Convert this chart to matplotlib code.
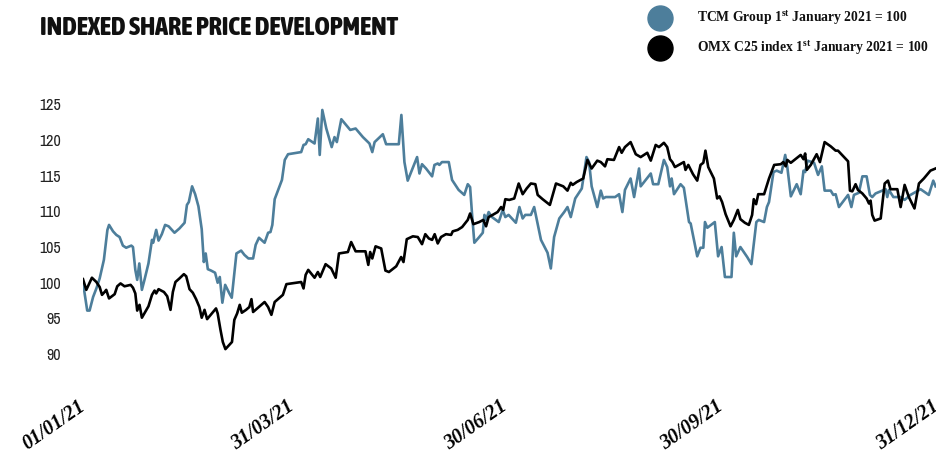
import matplotlib
matplotlib.use("Agg")
import matplotlib.pyplot as plt
import pandas as pd
from matplotlib import font_manager
from matplotlib.lines import Line2D

# TCM Group, indexed (day offset from 1 Jan 2021, index value)
tcm_days = (
    [0, 1.8, 2.8, 4.3, 5.7, 7.1, 8.9, 10.4, 11.1, 12.8, 14.2, 15.6, 17.0, 18.4, 20.6, 21.3, 22.3, 23.1, 24.0, 25.1,
     26.2, 27.9, 29.4, 29.9, 31.2, 32.2, 33.6, 35.0, 36.5, 39.0, 41.1, 43.3, 44.3, 45.1, 46.5, 47.8, 49.2, 50.6,
     51.5, 52.3, 53.2, 54.6, 56.3, 57.4, 58.3, 59.4, 60.6, 62.4, 63.4, 65.4, 67.4, 68.8, 70.5]
    + [72.5, 73.6, 75.0, 77.4, 78.9, 79.9, 80.7, 81.7, 83.1, 84.8, 86.0, 87.4, 93.0, 94.0, 94.9, 96.0, 98.7, 100.1,
       100.9, 102.0, 103.7, 106.0, 107.2, 108.2, 110.1, 113.9, 116.2, 119.3, 122.1, 123.3, 124.3, 127.8, 129.2,
       134.6, 135.7, 137.0, 138.4, 142.4]
    + [143.4, 144.5, 146.2, 148.8, 149.8, 151.2, 151.9, 153.0, 155.9, 157.3, 158.7, 160.1, 162.5, 164.0, 165.0,
       165.8, 166.8, 168.9, 170.4, 171.1, 171.8, 172.9, 174.3, 177.2, 178.9, 180.0, 181.4, 184.5, 186.0, 187.4,
       188.5, 190.9, 192.3, 195.2, 198.0, 199.4, 200.8, 203.0, 205.1, 206.5, 207.9, 209.8, 212.6, 214.6]
    + [215.7, 216.8, 219.2, 220.7, 221.7, 222.8, 226.8, 228.5, 229.9, 231.0, 233.4, 234.9, 237.0, 237.7, 242.0,
       243.0, 245.2, 247.6, 249.0, 250.2, 250.9, 251.9, 254.7, 256.1, 258.3, 259.0, 261.8, 263.2, 264.4, 265.1,
       266.1, 269.3, 270.7, 272.2, 273.6, 276.4, 277.4, 278.4, 280.2, 283.1, 284.9, 287.0, 288.0]
    + [290.3, 291.5, 292.4, 294.3, 295.7, 297.7, 299.3, 300.2, 301.7, 304.2, 305.9, 307.1, 307.8, 308.8, 311.6,
       313.3, 314.9, 316.1, 318.7, 319.8, 320.8, 322.2, 326.1, 327.5, 328.6, 330.7, 332.2, 334.0, 335.4, 336.4,
       337.8, 342.1, 342.8, 343.5, 345.4, 348.5, 350.2, 352.7, 357.0, 360.5, 362.4, 363.4]
)
tcm_values = (
    [100.0, 96.1, 96.1, 98.0, 99.2, 100.6, 103.2, 107.4, 108.1, 107.2, 106.7, 106.4, 105.2, 104.9, 105.2, 105.0,
     101.8, 100.4, 102.7, 99.0, 100.4, 102.7, 106.0, 105.6, 107.4, 105.9, 106.8, 108.1, 107.9, 107.0, 107.6, 108.4,
     110.9, 111.3, 113.5, 112.4, 110.7, 107.5, 102.9, 104.1, 101.9, 101.7, 101.4, 100.0, 100.8, 97.2, 99.7, 98.5,
     97.9, 104.1, 104.5, 103.9, 103.4]
    + [103.4, 105.3, 106.3, 105.6, 107.0, 107.1, 108.1, 111.7, 112.9, 114.4, 117.2, 118.0, 118.3, 119.3, 119.4,
       120.1, 119.5, 123.0, 117.9, 124.2, 121.6, 119.0, 120.4, 119.7, 122.9, 121.4, 121.6, 120.4, 119.5, 118.3,
       119.7, 120.8, 119.4, 119.4, 123.5, 116.9, 114.3, 117.6]
    + [115.3, 116.6, 116.0, 114.9, 116.5, 116.7, 116.5, 116.9, 116.9, 114.4, 113.7, 113.0, 112.3, 113.8, 113.4,
       109.7, 105.6, 106.4, 107.0, 109.5, 108.8, 109.9, 109.2, 108.5, 110.2, 109.2, 109.5, 108.4, 110.6, 109.0,
       109.5, 109.5, 110.6, 106.0, 104.2, 102.0, 106.4, 109.0, 109.9, 110.6, 109.2, 111.8, 113.2, 117.6]
    + [116.9, 113.5, 110.6, 112.9, 111.8, 112.0, 112.0, 112.4, 109.9, 113.0, 114.6, 112.0, 116.0, 113.5, 115.3,
       113.8, 113.8, 117.2, 116.2, 113.5, 114.6, 112.4, 113.8, 113.3, 108.5, 108.3, 103.7, 104.9, 104.9, 108.5,
       107.7, 108.5, 103.7, 105.0, 100.8, 100.8, 107.0, 103.7, 105.0, 103.6, 102.6, 108.5, 108.8]
    + [108.5, 110.6, 111.3, 115.5, 115.7, 115.4, 117.9, 116.2, 112.1, 113.8, 112.4, 115.7, 115.5, 117.1, 116.8,
       115.1, 116.3, 112.9, 112.9, 112.3, 112.4, 110.6, 112.3, 110.6, 112.3, 112.6, 114.9, 114.9, 112.3, 112.0,
       112.5, 113.1, 112.0, 113.0, 112.0, 112.0, 111.6, 112.3, 113.1, 112.3, 114.3, 113.5]
)

# OMX C25 index, indexed
omx_days = (
    [0, 1.4, 3.8, 5.7, 7.1, 8.1, 9.2, 9.9, 11.1, 13.5, 14.6, 16.0, 17.7, 20.3, 21.3, 22.3, 23.1, 24.1, 25.1, 27.9,
     29.4, 30.5, 31.2, 32.2, 34.5, 35.9, 37.3, 38.3, 39.4, 41.1, 43.0, 44.0, 45.4, 46.8, 48.2, 49.6, 50.6, 51.8,
     52.9, 54.9, 56.7, 57.4, 58.6, 59.6, 60.7, 63.5, 64.5, 65.7, 66.8, 67.7, 69.5, 70.9]
    + [71.8, 72.5, 74.6, 77.4, 78.9, 80.3, 81.7, 85.2, 86.7, 93.0, 94.0, 94.9, 96.0, 98.7, 100.1, 101.1, 103.4,
       105.8, 107.7, 109.1, 112.9, 114.3, 116.2, 120.4, 121.6, 122.4, 123.3, 124.7, 127.1, 128.9, 130.4, 133.5,
       135.6, 136.6, 138.0, 140.6, 142.7]
    + [144.5, 145.9, 147.4, 148.8, 149.9, 151.2, 152.6, 154.7, 156.9, 157.6, 159.7, 161.6, 164.0, 165.0, 166.4,
       168.9, 170.6, 171.8, 172.9, 174.6, 176.7, 178.2, 179.1, 180.0, 181.7, 183.8, 185.7, 187.4, 189.1, 190.9,
       192.8, 193.8, 195.9, 199.0, 201.6, 204.7, 206.5, 207.9, 208.7, 210.4, 213.2, 215.0]
    + [216.8, 219.2, 220.7, 222.5, 223.5, 226.3, 228.5, 229.6, 231.0, 233.4, 235.6, 237.7, 240.5, 242.0, 244.1,
       245.5, 247.6, 249.0, 250.2, 251.2, 252.3, 256.1, 256.8, 258.0, 260.0, 261.8, 263.2, 264.4, 265.3, 266.5,
       268.9, 270.3, 271.3, 272.4, 273.9, 276.0, 277.4, 279.1, 280.2, 282.1, 283.8, 285.2, 285.9, 286.9, 287.8,
       290.3]
    + [292.4, 294.6, 297.4, 298.5, 299.5, 300.2, 301.7, 305.9, 307.1, 307.8, 308.5, 310.2, 312.7, 314.1, 316.1,
       318.7, 320.8, 321.8, 326.1, 326.9, 327.9, 329.3, 330.3, 332.2, 334.0, 335.0, 335.7, 336.4, 337.4, 340.0,
       341.7, 343.1, 344.2, 347.1, 348.5, 350.2, 352.0, 354.4, 356.3, 358.4, 361.2, 363.4]
)
omx_values = (
    [100.5, 99.0, 100.7, 100.1, 99.4, 98.3, 98.7, 99.0, 97.8, 98.4, 99.5, 99.9, 99.5, 99.7, 99.3, 98.5, 96.1, 96.9,
     95.1, 96.7, 98.3, 98.9, 98.5, 99.1, 98.7, 98.1, 96.2, 98.7, 100.1, 100.6, 101.2, 100.9, 99.1, 98.6, 97.7,
     96.6, 95.1, 96.2, 94.9, 95.7, 96.4, 95.7, 93.4, 91.7, 90.7, 91.7, 94.8, 95.7, 96.9, 95.8, 96.2, 96.6]
    + [97.7, 95.9, 96.5, 97.3, 96.6, 95.5, 97.3, 98.3, 99.8, 100.1, 99.2, 101.1, 101.8, 100.7, 101.5, 100.8, 102.6,
       102.0, 100.7, 104.1, 104.3, 105.7, 104.4, 104.4, 102.5, 104.3, 103.4, 105.1, 104.8, 101.7, 101.5, 102.3,
       103.6, 102.9, 106.1, 106.5, 106.4]
    + [105.4, 106.8, 106.2, 106.0, 106.8, 105.5, 106.4, 106.8, 106.7, 107.2, 107.4, 107.8, 108.8, 109.7, 108.2,
       108.5, 108.8, 107.9, 109.2, 109.5, 109.9, 110.6, 110.2, 111.7, 111.6, 111.8, 113.9, 112.4, 113.2, 113.9,
       113.8, 112.3, 111.7, 110.9, 113.9, 113.5, 112.9, 114.0, 113.7, 114.1, 114.6, 117.2]
    + [116.0, 117.1, 116.9, 116.3, 117.3, 117.2, 119.0, 118.2, 119.0, 119.7, 118.0, 117.6, 118.2, 117.1, 119.3,
       119.0, 119.6, 119.0, 117.3, 116.9, 116.2, 116.9, 115.8, 116.5, 115.2, 114.3, 116.5, 116.8, 118.5, 116.2,
       114.6, 111.8, 112.1, 111.3, 109.6, 107.9, 108.8, 110.2, 108.9, 108.4, 108.1, 109.5, 111.7, 111.0, 112.4,
       112.4]
    + [114.6, 116.5, 116.6, 116.9, 116.3, 117.2, 116.8, 117.9, 117.3, 118.1, 115.8, 116.5, 118.0, 116.9, 119.7,
       119.1, 118.5, 118.5, 117.0, 112.9, 112.8, 113.8, 113.0, 112.5, 111.8, 111.1, 111.5, 109.5, 108.7, 109.0,
       113.9, 114.3, 113.1, 113.1, 110.6, 113.7, 112.0, 110.4, 113.9, 114.6, 115.7, 116.0]
)

y_ticks = [90, 95, 100, 105, 110, 115, 120, 125]
x_tick_dates = ["2021-01-01", "2021-03-31", "2021-06-30", "2021-09-30", "2021-12-31"]
x_tick_labels = ["01/01/21", "31/03/21", "30/06/21", "30/09/21", "31/12/21"]

title = "INDEXED SHARE PRICE DEVELOPMENT"
tcm_label = r"TCM Group 1$^{\mathbf{st}}$ January 2021 = 100"
omx_label = r"OMX C25 index 1$^{\mathbf{st}}$ January 2021 = 100"

TCM_COLOR = "#4d7e9b"
OMX_COLOR = "#000000"


def _weight(f):
    w = f.weight
    return w if isinstance(w, int) else font_manager.weight_dict.get(w, 400)


# pick narrow sans faces if installed, otherwise fall back
fonts = font_manager.fontManager.ttflist
names = {f.name for f in fonts}
named_narrow = [f for f in fonts if "Narrow" in f.name or "Condensed" in f.name]
stretch_narrow = [f for f in fonts if f.stretch in ("condensed", "semi-condensed", 87, 75)]
narrow = named_narrow[0].name if named_narrow else "DejaVu Sans"
bold_narrow = [f for f in named_narrow + stretch_narrow if _weight(f) >= 600]
title_font = bold_narrow[0].name if bold_narrow else ("Liberation Sans" if "Liberation Sans" in names else "DejaVu Sans")
serif = "Liberation Serif" if "Liberation Serif" in names else "DejaVu Serif"
plt.rcParams["mathtext.fontset"] = "custom"
plt.rcParams["mathtext.bf"] = f"{serif}:bold"
plt.rcParams["mathtext.rm"] = serif

start = pd.Timestamp("2021-01-01")
tcm_dates = start + pd.to_timedelta(tcm_days, unit="D")
omx_dates = start + pd.to_timedelta(omx_days, unit="D")

W, H = 937, 453
fig = plt.figure(figsize=(W / 100, H / 100), dpi=100)
ax = fig.add_axes([83 / W, 1 - 368.4 / H, 1 - 83 / W, (368.4 - 97.1) / H])

ax.plot(tcm_dates, tcm_values, color=TCM_COLOR, lw=1.9, solid_joinstyle="round")
ax.plot(omx_dates, omx_values, color=OMX_COLOR, lw=1.9, solid_joinstyle="round")

ax.set_xlim(start, start + pd.Timedelta(days=364))
ax.set_ylim(88, 126)
for s in ax.spines.values():
    s.set_visible(False)

ax.set_yticks(y_ticks)
ax.set_yticklabels([str(v) for v in y_ticks], fontfamily=narrow, fontstretch="condensed",
                   fontsize=11.5, color="#222222")
ax.tick_params(axis="y", length=0, pad=16)

ax.set_xticks(pd.to_datetime(x_tick_dates))
ax.set_xticklabels(x_tick_labels, rotation=35, ha="right", va="center", rotation_mode="anchor",
                   fontfamily=serif, fontweight="bold", fontstyle="italic", fontsize=14.5)
ax.tick_params(axis="x", length=0, pad=26)

t = fig.text(40 / W, 1 - 35 / H, title, fontfamily=title_font, fontstretch="condensed", fontweight="heavy",
             fontsize=20, va="baseline", ha="left", color="#111111")
# shrink the title until it spans the same width as in the source graphic
renderer = fig.canvas.get_renderer()
width = t.get_window_extent(renderer).width
t.set_fontsize(20 * 357 / width)

for y_px, color, label in [(18, TCM_COLOR, tcm_label), (48, OMX_COLOR, omx_label)]:
    fig.add_artist(Line2D([660 / W], [1 - y_px / H], marker="o", markersize=18, color=color,
                          linestyle="none", transform=fig.transFigure))
    fig.text(697 / W, 1 - y_px / H, label, fontfamily=serif, fontweight="bold", fontsize=9.8,
             va="center", ha="left", color="#111111")

fig.savefig("out.png", dpi=100)
plt.close(fig)
